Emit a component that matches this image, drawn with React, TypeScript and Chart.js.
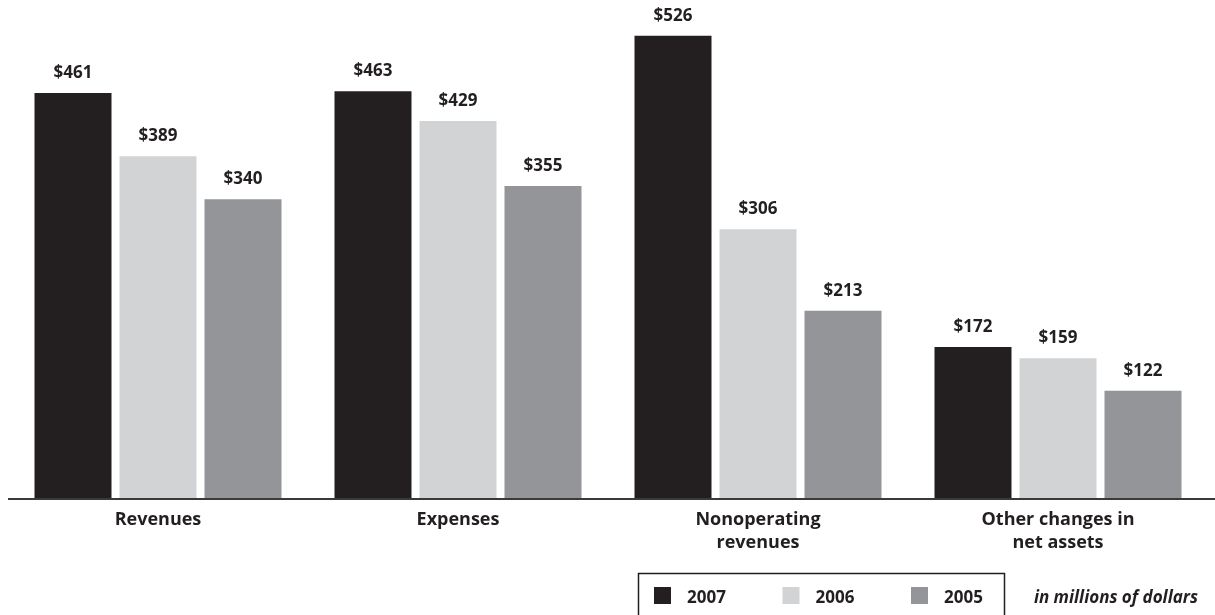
import React, { useEffect, useRef } from "react";
import { Chart, registerables } from "chart.js";

Chart.register(...registerables);

const categories: string[][] = [
  ["Revenues"],
  ["Expenses"],
  ["Nonoperating", "revenues"],
  ["Other changes in", "net assets"],
];
const seriesLabels = ["2007", "2006", "2005"];
const values2007 = [461, 463, 526, 172];
const values2006 = [389, 429, 306, 159];
const values2005 = [340, 355, 213, 122];
const seriesColors = ["#231f20", "#d1d3d4", "#939598"];
const unitNote = "in millions of dollars";

const FONT = "'Open Sans', 'DejaVu Sans', sans-serif";

const overlayPlugin = {
  id: "overlay",
  afterDatasetsDraw(chart: any) {
    const { ctx, chartArea } = chart;
    const xScale = chart.scales.x;
    ctx.save();
    // axis line
    ctx.strokeStyle = "#3a3a3a";
    ctx.lineWidth = 2;
    ctx.beginPath();
    ctx.moveTo(8, chartArea.bottom + 1);
    ctx.lineTo(1215, chartArea.bottom + 1);
    ctx.stroke();

    // value labels
    ctx.fillStyle = "#231f20";
    ctx.font = `700 17px ${FONT}`;
    ctx.textAlign = "center";
    ctx.textBaseline = "alphabetic";
    chart.data.datasets.forEach((ds: any, di: number) => {
      const meta = chart.getDatasetMeta(di);
      meta.data.forEach((bar: any, i: number) => {
        ctx.fillText("$" + ds.data[i], bar.x, bar.y - 15);
      });
    });

    // category labels
    ctx.font = `700 18px ${FONT}`;
    categories.forEach((lines, i) => {
      const x = xScale.getPixelForValue(i);
      lines.forEach((line, li) => {
        ctx.fillText(line, x, chartArea.bottom + 27 + li * 23);
      });
    });

    // legend box
    ctx.strokeStyle = "#231f20";
    ctx.lineWidth = 1.5;
    ctx.strokeRect(638.5, 573.5, 366, 60);
    ctx.font = `700 17px ${FONT}`;
    ctx.textAlign = "left";
    chart.data.datasets.forEach((ds: any, di: number) => {
      const sx = 654 + di * 128.5;
      ctx.fillStyle = ds.backgroundColor;
      ctx.fillRect(sx, 587, 17, 17);
      ctx.fillStyle = "#231f20";
      ctx.fillText(ds.label, sx + 33, 603);
    });
    ctx.font = `italic 700 17px ${FONT}`;
    ctx.textAlign = "right";
    ctx.fillText(unitNote, 1198, 603);
    ctx.restore();
  },
};

export default function App() {
  const ref = useRef<HTMLCanvasElement>(null);
  useEffect(() => {
    if (!ref.current) return;
    const seriesValues = [values2007, values2006, values2005];
    const chart = new Chart(ref.current, {
      type: "bar",
      data: {
        labels: categories.map((c) => c.join(" ")),
        datasets: seriesLabels.map((label, i) => ({
          label,
          data: seriesValues[i],
          backgroundColor: seriesColors[i],
          borderWidth: 0,
          categoryPercentage: 0.85,
          barPercentage: 77 / 85,
        })),
      },
      options: {
        animation: false,
        responsive: false,
        maintainAspectRatio: false,
        devicePixelRatio: 1,
        layout: { padding: { left: 8, right: 7, top: 6, bottom: 117 } },
        plugins: { legend: { display: false }, tooltip: { enabled: false } },
        scales: {
          x: { display: false },
          y: { display: false, min: 0, max: 560 },
        },
      },
      plugins: [overlayPlugin],
    });
    return () => chart.destroy();
  }, []);
  return (
    <div style={{ position: "fixed", left: 0, top: 0, width: 1215, height: 615, background: "#fff" }}>
      <canvas ref={ref} width={1215} height={615} style={{ display: "block", width: 1215, height: 615 }} />
    </div>
  );
}
